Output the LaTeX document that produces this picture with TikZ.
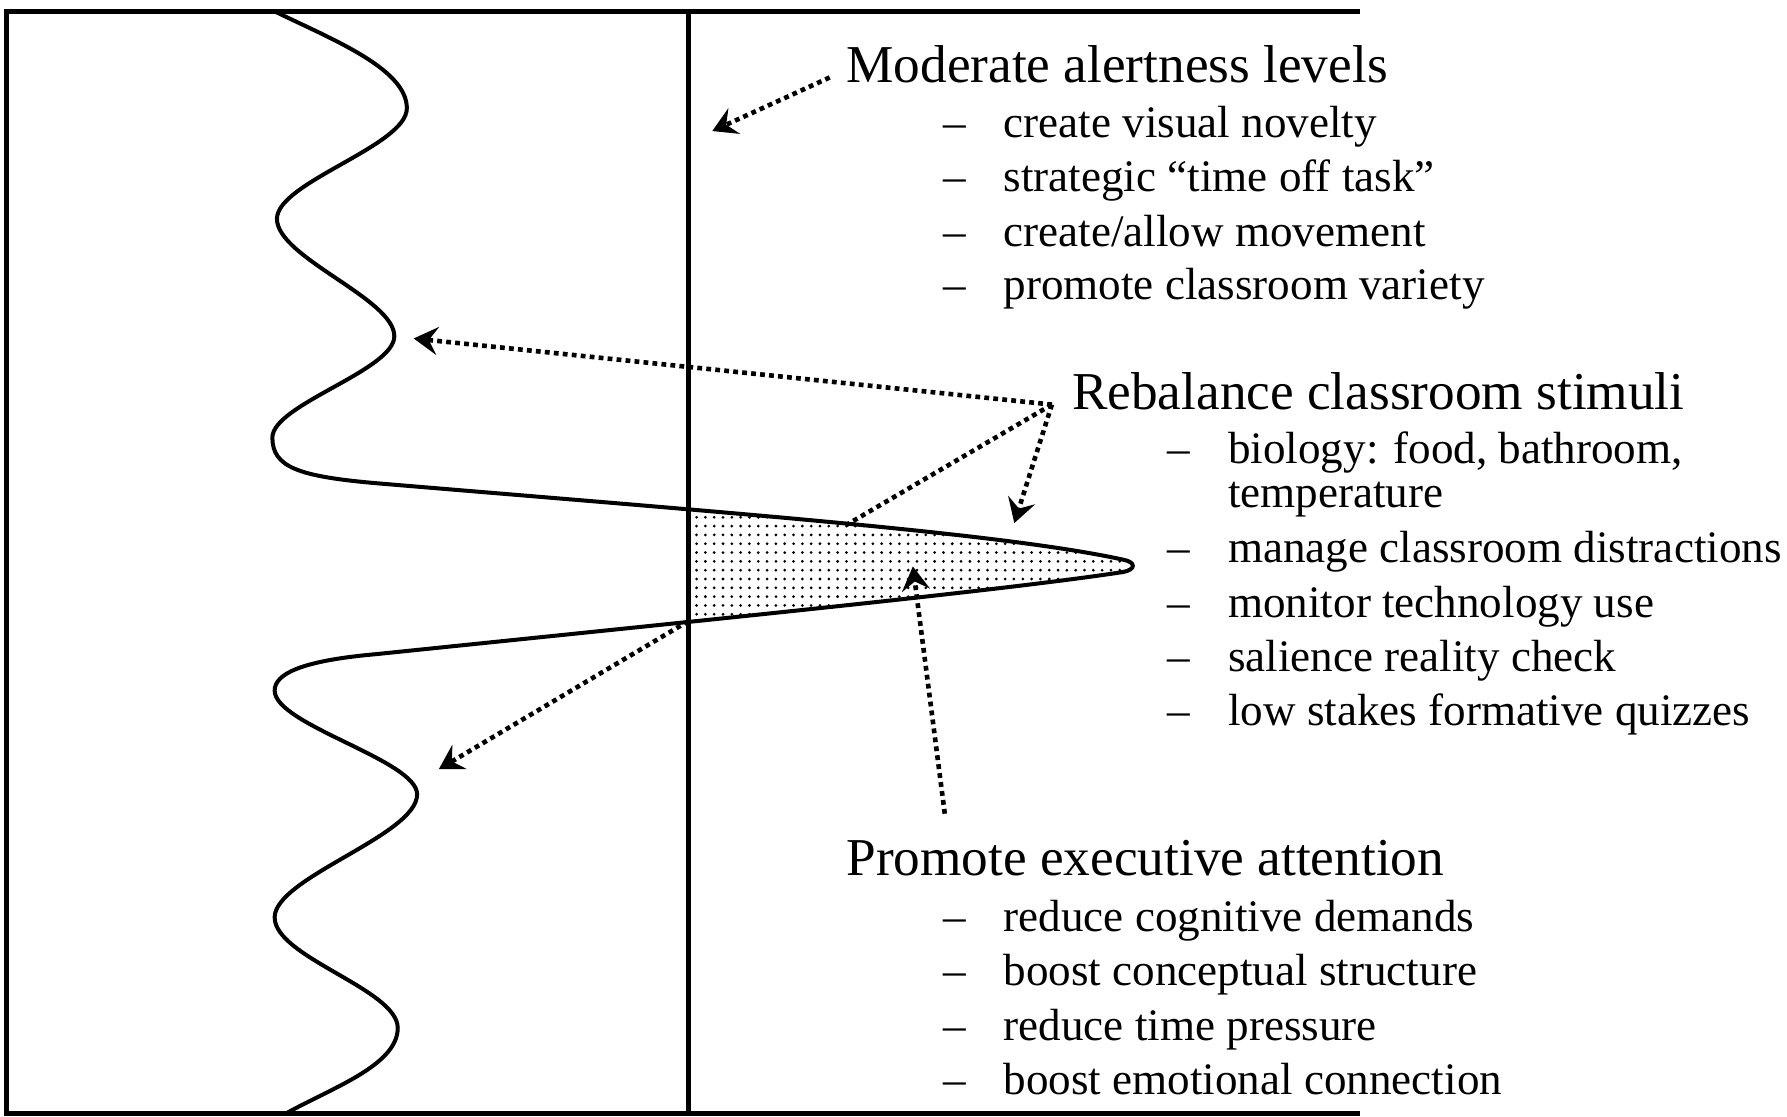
\documentclass[tikz,border=0pt]{standalone}
\usepackage{fontspec}
\setmainfont{Liberation Serif}
\usetikzlibrary{arrows.meta,patterns.meta}
\begin{document}
\begin{tikzpicture}[x=0.01cm,y=-0.01cm,
  frameline/.style={line width=1.25pt,line join=miter},
  axisline/.style={line width=1.15pt},
  wave/.style={line width=1pt},
  pointer/.style={line width=1.15pt,dash pattern=on 1.2pt off 1.05pt,
    -{Stealth[length=6pt,width=7pt,inset=2.2pt]}},
  plainpointer/.style={line width=1.15pt,dash pattern=on 1.2pt off 1.05pt},
  head/.style={font=\fontsize{13.29pt}{15pt}\selectfont,anchor=base west,inner sep=0pt},
  item/.style={font=\fontsize{11.25pt}{13pt}\selectfont,anchor=base west,inner sep=0pt},
]
\useasboundingbox (0,0) rectangle (1568,980);

% shaded part of the spike, right of the vertical axis
\begin{scope}
  \clip (604,0) rectangle (1100,980);
  \fill[pattern={Dots[distance=2.2pt,radius=0.38pt]}]
    (330,424) .. controls (640,450) and (880,468) .. (985,491)
    .. controls (997,493) and (997,500) .. (985,502)
    .. controls (880,518) and (640,542) .. (330,574) -- cycle;
\end{scope}

% frame and axis
\draw[frameline] (1193,10) -- (6,10) -- (6,977) -- (1193,977);
\draw[axisline] (604,10) -- (604,977);

% wave
\draw[wave] (241,10) .. controls (290,34) and (357,60) .. (357,95)
  .. controls (357,128) and (243,160) .. (243,192)
  .. controls (243,226) and (346,262) .. (346,295)
  .. controls (346,325) and (239,355) .. (239,384)
  .. controls (239,410) and (262,418) .. (330,424)
  .. controls (640,450) and (880,468) .. (985,491)
  .. controls (997,493) and (997,500) .. (985,502)
  .. controls (880,518) and (640,542) .. (330,574)
  .. controls (262,580) and (241,592) .. (241,606)
  .. controls (241,636) and (366,667) .. (366,697)
  .. controls (366,733) and (241,770) .. (241,805)
  .. controls (241,840) and (349,868) .. (349,902)
  .. controls (349,935) and (290,955) .. (251,977);

% named points
\coordinate (modstart) at (728,68);
\coordinate (modtip) at (625,115);
\coordinate (rb) at (923,355);
\coordinate (peakR2) at (363,297);
\coordinate (spikeTop) at (742,461);
\coordinate (spikeTip) at (890,459);
\coordinate (junction) at (604,545);
\coordinate (peakR3) at (385,675);
\coordinate (pestart) at (829,714);
\coordinate (shade) at (801,497);

% texts
\node[head] (mod) at (742,72) {Moderate alertness levels};
\node[item] (m1d) at (827,121) {\textendash};
\node[item] (m1) at (880,121) {create visual novelty};
\node[item] (m2d) at (827,168) {\textendash};
\node[item] (m2) at (880,168) {strategic ``time off task''};
\node[item] (m3d) at (827,216.5) {\textendash};
\node[item] (m3) at (880,216.5) {create/allow movement};
\node[item] (m4d) at (827,263) {\textendash};
\node[item] (m4) at (880,263) {promote classroom variety};

\node[head] (reb) at (940,359) {Rebalance classroom stimuli};
\node[item] (r1d) at (1024,407) {\textendash};
\node[item] (r1) at (1077,407) {biology: food, bathroom,};
\node[item] (r1b) at (1077,445) {temperature};
\node[item] (r2d) at (1024,494) {\textendash};
\node[item] (r2) at (1077,494) {manage classroom distractions};
\node[item] (r3d) at (1024,542) {\textendash};
\node[item] (r3) at (1077,542) {monitor technology use};
\node[item] (r4d) at (1024,589.5) {\textendash};
\node[item] (r4) at (1077,589.5) {salience reality check};
\node[item] (r5d) at (1024,637) {\textendash};
\node[item] (r5) at (1077,637) {low stakes formative quizzes};

\node[head] (pro) at (742,768) {Promote executive attention};
\node[item] (p1d) at (827,817.5) {\textendash};
\node[item] (p1) at (880,817.5) {reduce cognitive demands};
\node[item] (p2d) at (827,865) {\textendash};
\node[item] (p2) at (880,865) {boost conceptual structure};
\node[item] (p3d) at (827,913) {\textendash};
\node[item] (p3) at (880,913) {reduce time pressure};
\node[item] (p4d) at (827,960) {\textendash};
\node[item] (p4) at (880,960) {boost emotional connection};

% pointers
\draw[pointer] (modstart) -- (modtip);
\draw[pointer] (rb) -- (peakR2);
\draw[plainpointer] (rb) -- (spikeTop);
\draw[pointer] (rb) -- (spikeTip);
\draw[pointer] (junction) -- (peakR3);
\draw[pointer] (pestart) -- (shade);
\end{tikzpicture}
\end{document}
